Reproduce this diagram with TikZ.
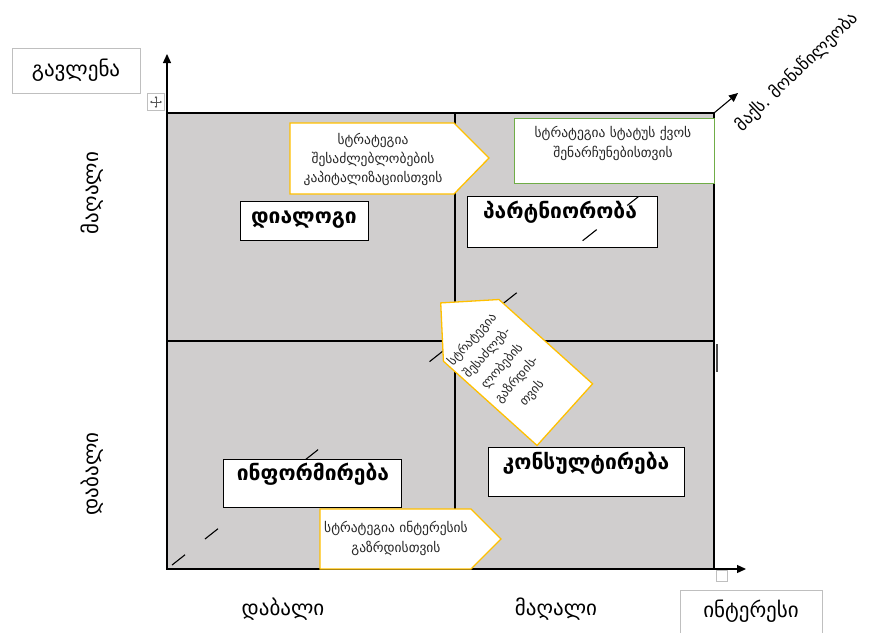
\documentclass[tikz,border=0pt]{standalone}
\usepackage{fontspec}
\setmainfont{DejaVu Sans}
\usetikzlibrary{arrows.meta}
\definecolor{quadgray}{HTML}{D0CECE}
\definecolor{stratyellow}{HTML}{FFC000}
\definecolor{stratgreen}{HTML}{70AD47}
\definecolor{labelgray}{HTML}{BFBFBF}
\definecolor{txtgray}{HTML}{262626}
\tikzset{
  axisline/.style={line width=1.3pt, -{Triangle[length=9pt,width=8pt]}},
  gridline/.style={line width=1.1pt},
  quadbox/.style={draw=black, line width=1.1pt, fill=white, inner sep=0pt, anchor=north west},
  quadtext/.style={font=\bfseries\fontsize{21}{24}\selectfont, text=black},
  stratshape/.style={draw=stratyellow, line width=1.3pt, fill=white},
  strattext/.style={font=\fontsize{13.5}{19}\selectfont, align=center, text=txtgray},
  axislabel/.style={font=\fontsize{21}{24}\selectfont, text=black},
  namebox/.style={draw=labelgray, line width=0.9pt, fill=white},
}
\begin{document}
\begin{tikzpicture}[x=1pt,y=-1pt]
\useasboundingbox (0,0) rectangle (869,632);
% grid
\coordinate (O) at (167,569);
\coordinate (TR) at (714,113);
\fill[quadgray] (167,113) rectangle (714,569);
\draw[gridline] (167,113) rectangle (714,569);
\draw[gridline] (455,113) -- (455,569);
\draw[gridline] (167,341) -- (714,341);
% partnership box (under the dashed line)
\node[quadbox, minimum width=190pt, minimum height=51pt] (partbox) at (467,196) {};
\node[quadtext] (partner) at (560,212) {პარტნიორობა};
% dashed diagonal (its upper end is hidden under the green box)
\coordinate (dend) at (700,148);
\draw[line width=1.1pt, dash pattern=on 0pt off 6.4pt on 16.6pt off 25.4pt on 16.6pt off 111pt on 16.6pt off 142pt on 22pt off 71pt on 18pt off 84pt on 18pt off 39pt on 14pt off 300pt] (O) -- (dend);
% axes
\coordinate (ytip) at (167,54);
\coordinate (xtip) at (746,569);
\coordinate (dtip) at (738,93);
\draw[axisline] (O) -- (ytip);
\draw[axisline] (O) -- (xtip);
\draw[line width=1.1pt, -{Triangle[length=9pt,width=8pt]}] (TR) -- (dtip);
% small handles
\node[draw=labelgray, line width=0.8pt, fill=white, minimum size=17pt, inner sep=0pt] (movebox) at (156,102) {};
\draw[gray!70!black, line width=0.6pt, {Triangle[length=2pt,width=2.5pt]}-{Triangle[length=2pt,width=2.5pt]}] (150,102) -- (162,102);
\draw[gray!70!black, line width=0.6pt, {Triangle[length=2pt,width=2.5pt]}-{Triangle[length=2pt,width=2.5pt]}] (156,96) -- (156,108);
\node[draw=labelgray, line width=0.8pt, fill=white, minimum size=11pt, inner sep=0pt] (xhandle) at (722,576) {};
\draw[line width=2pt, gray!60!black] (717,344) -- (717,372);
% quadrant boxes
\node[quadbox, minimum width=128pt, minimum height=39pt] (dialbox) at (240,201) {};
\node[quadtext] (dialog) at (304,220) {დიალოგი};
\node[quadbox, minimum width=178pt, minimum height=48pt] (infobox) at (223,459) {};
\node[quadtext] (inform) at (313,474) {ინფორმირება};
\node[quadbox, minimum width=196pt, minimum height=49pt] (consbox) at (488,447) {};
\node[quadtext] (consult) at (586,463) {კონსულტირება};
% strategy shapes
\draw[stratshape] (290,123) -- (454,123) -- (489,158) -- (454,194) -- (290,194) -- cycle;
\node[strattext] (stratcap) at (373,159) {სტრატეგია\\შესაძლებლობების\\კაპიტალიზაციისთვის};
\draw[stratshape] (320,509) -- (471,509) -- (501,539) -- (471,569) -- (320,569) -- cycle;
\node[strattext, font=\fontsize{13.5}{20}\selectfont] (stratint) at (396,538) {სტრატეგია ინტერესის\\გაზრდისთვის};
\node[draw=stratgreen, line width=1.1pt, fill=white, minimum width=200pt, minimum height=65pt, anchor=north west] (statusbox) at (514,118) {};
\node[strattext, font=\fontsize{13.5}{20}\selectfont] (stratstat) at (613,143) {სტრატეგია სტატუს ქვოს\\შენარჩუნებისთვის};
\begin{scope}[shift={(518,372.5)}, rotate=48]
  \draw[stratshape] (-41.5,-63) -- (0,-104) -- (41.5,-63) -- (41.5,63) -- (-41.5,63) -- cycle;
  \node[strattext, rotate=48, font=\fontsize{12.5}{20}\selectfont] (stratgrow) at (-6,-16) {სტრატეგია\\შესაძლებ-\\ლობების\\გაზრდის-\\თვის};
\end{scope}
% axis labels
\node[namebox, minimum width=128pt, minimum height=45pt, font=\fontsize{21}{24}\selectfont] (influence) at (76,70.5) {გავლენა};
\draw[namebox] (680,634) -- (680,590) -- (822,590) -- (822,634);
\node[font=\fontsize{21}{24}\selectfont] (interest) at (751,611) {ინტერესი};
\node[axislabel, rotate=90] (yhigh) at (92,193) {მაღალი};
\node[axislabel, rotate=90] (ylow) at (92,474) {დაბალი};
\node[axislabel] (xlow) at (283,609) {დაბალი};
\node[axislabel] (xhigh) at (556,609) {მაღალი};
\node[font=\fontsize{17}{20}\selectfont, rotate=44] (maxpart) at (797,72) {მაქს. მონაწილეობა};
\end{tikzpicture}
\end{document}
